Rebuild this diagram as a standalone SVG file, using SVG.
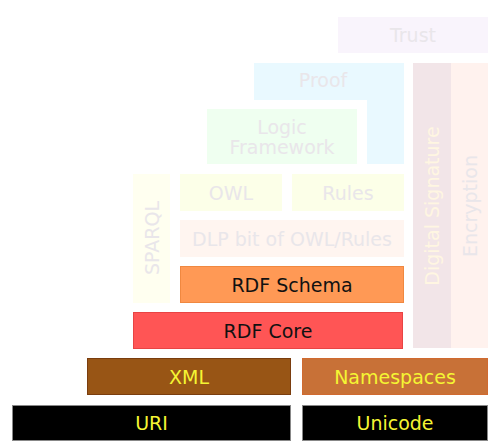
<svg xmlns="http://www.w3.org/2000/svg" width="500" height="444" viewBox="0 0 500 444">
  <style>
    text { font-family: "DejaVu Sans", "Liberation Sans", sans-serif; font-size: 19px; text-anchor: middle; dominant-baseline: central; }
    .pale { fill: #e9e6ea; }
    .dark { fill: #111111; }
    .yellow { fill: #f5f533; }
  </style>
  <rect width="500" height="444" fill="#ffffff"/>

  <g id="trust">
    <rect x="338" y="17" width="150" height="36" fill="#f9f4fc"/>
    <text x="413" y="35" class="pale">Trust</text>
  </g>

  <g id="proof">
    <path d="M254 63 H404 V164 H367 V100 H254 Z" fill="#e9f9ff"/>
    <text x="323" y="80" class="pale">Proof</text>
  </g>

  <g id="digital-signature">
    <rect x="413" y="63" width="38" height="285" fill="#f2e5e8"/>
    <text transform="translate(432 206) rotate(-90)" fill="#fff6e2">Digital Signature</text>
  </g>

  <g id="encryption">
    <rect x="451" y="63" width="37" height="285" fill="#fff2ee"/>
    <text transform="translate(469.5 206) rotate(-90)" class="pale">Encryption</text>
  </g>

  <g id="logic-framework">
    <rect x="207" y="109" width="150" height="55" fill="#effff0"/>
    <text x="282" y="127" class="pale">Logic</text>
    <text x="282" y="147" class="pale">Framework</text>
  </g>

  <g id="sparql">
    <rect x="133" y="174" width="37" height="129" fill="#fffff0"/>
    <text transform="translate(151.5 238) rotate(-90)" class="pale">SPARQL</text>
  </g>

  <g id="owl">
    <rect x="180" y="174" width="102" height="37" fill="#fcffe8"/>
    <text x="231" y="192.5" class="pale">OWL</text>
  </g>

  <g id="rules">
    <rect x="292" y="174" width="112" height="37" fill="#fcffe8"/>
    <text x="348" y="192.5" class="pale">Rules</text>
  </g>

  <g id="dlp">
    <rect x="180" y="220" width="224" height="37" fill="#fff5f0"/>
    <text x="292" y="238.5" class="pale">DLP bit of OWL/Rules</text>
  </g>

  <g id="rdf-schema">
    <rect x="180.5" y="266.5" width="223" height="36" fill="#ff9955" stroke="#f08840" stroke-width="1"/>
    <text x="292" y="284.5" class="dark">RDF Schema</text>
  </g>

  <g id="rdf-core">
    <rect x="133.5" y="312.5" width="269" height="36" fill="#ff5555" stroke="#e84444" stroke-width="1"/>
    <text x="268" y="330.5" class="dark">RDF Core</text>
  </g>

  <g id="xml">
    <rect x="87.5" y="358.5" width="203" height="36" fill="#985515" stroke="#7a3d0e" stroke-width="1"/>
    <text x="189" y="376.5" class="yellow">XML</text>
  </g>

  <g id="namespaces">
    <rect x="302.5" y="358.5" width="185" height="36" fill="#c87137" stroke="#d06a30" stroke-width="1"/>
    <text x="395" y="376.5" class="yellow">Namespaces</text>
  </g>

  <g id="uri">
    <rect x="12.5" y="405.5" width="278" height="35" fill="#000000" stroke="#888888" stroke-width="1"/>
    <text x="151.5" y="423" class="yellow">URI</text>
  </g>

  <g id="unicode">
    <rect x="302.5" y="405.5" width="185" height="35" fill="#000000" stroke="#888888" stroke-width="1"/>
    <text x="395" y="423" class="yellow">Unicode</text>
  </g>

  <g id="connectors"></g>
</svg>
